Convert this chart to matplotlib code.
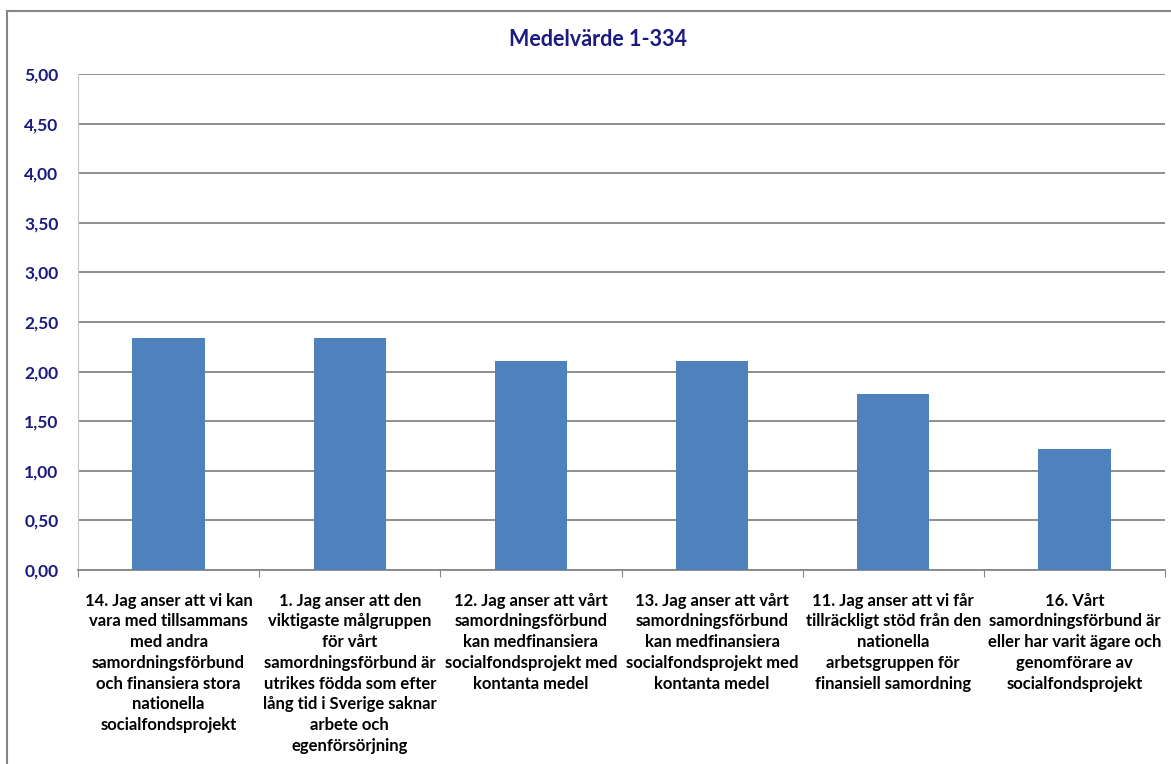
import numpy as np
import matplotlib.pyplot as plt
from matplotlib.patches import Rectangle

plt.rcParams['font.family'] = ['Lato', 'DejaVu Sans']

labels = [
    "14. Jag anser att vi kan\nvara med tillsammans\nmed andra\nsamordningsförbund\noch finansiera stora\nnationella\nsocialfondsprojekt",
    "1. Jag anser att den\nviktigaste målgruppen\nför vårt\nsamordningsförbund är\nutrikes födda som efter\nlång tid i Sverige saknar\narbete och\negenförsörjning",
    "12. Jag anser att vårt\nsamordningsförbund\nkan medfinansiera\nsocialfondsprojekt med\nkontanta medel",
    "13. Jag anser att vårt\nsamordningsförbund\nkan medfinansiera\nsocialfondsprojekt med\nkontanta medel",
    "11. Jag anser att vi får\ntillräckligt stöd från den\nnationella\narbetsgruppen för\nfinansiell samordning",
    "16. Vårt\nsamordningsförbund är\neller har varit ägare och\ngenomförare av\nsocialfondsprojekt",
]
values = [2.34, 2.34, 2.11, 2.11, 1.77, 1.22]
yticks = np.arange(0, 5.01, 0.5)

navy = '#1a1a80'
W, H = 1171, 764
fig = plt.figure(figsize=(W / 100, H / 100), dpi=100)
ax = fig.add_axes([78 / W, 1 - 570 / H, (1165 - 78) / W, (570 - 74) / H])

x = np.arange(len(values))
ax.bar(x, values, width=0.4, color='#4f81bd', zorder=3)
ax.set_xlim(-0.5, len(values) - 0.5)
ax.set_ylim(0, 5)
ax.set_yticks(yticks)
ax.set_yticklabels([f"{v:.2f}".replace('.', ',') for v in yticks],
                   color=navy, fontsize=12.5, fontweight='bold')
ax.yaxis.grid(True, color='#868686', linewidth=1.3, zorder=0)
ax.tick_params(axis='y', length=0, pad=14)

ax.set_xticks(np.arange(-0.5, len(values), 1.0))
ax.set_xticklabels([])
ax.tick_params(axis='x', length=5, color='#868686', direction='out')
for i, lab in enumerate(labels):
    ax.text(i, -0.23, lab, ha='center', va='top', fontsize=12,
            fontweight='bold', linespacing=1.36, transform=ax.transData)

for s in ['top', 'right']:
    ax.spines[s].set_visible(False)
ax.spines['left'].set_color('#c8c8c8')
ax.spines['bottom'].set_color('#868686')
ax.spines['bottom'].set_linewidth(1.3)

fig.text(598 / W, 1 - 40 / H, "Medelvärde 1-334", ha='center', va='center',
         color=navy, fontsize=15.5, fontweight='bold')

fig.patches.append(Rectangle((7 / W, -0.01), (W - 5) / W, 1 - 11 / H + 0.01,
                             transform=fig.transFigure, fill=False,
                             edgecolor='#868686', linewidth=1.5))

fig.savefig('out.png', dpi=100)
